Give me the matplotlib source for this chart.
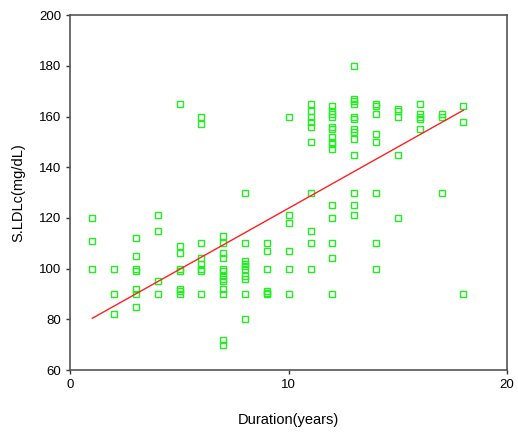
import numpy as np
import matplotlib.pyplot as plt

plt.rcParams['font.family'] = ['Liberation Sans', 'DejaVu Sans']

# duration (years) and small dense LDL (mg/dL)
duration = [1, 1, 1,
            2, 2, 2,
            3, 3, 3, 3, 3, 3, 3,
            4, 4, 4, 4,
            5, 5, 5, 5, 5, 5, 5, 5,
            6, 6, 6, 6, 6, 6, 6, 6,
            7, 7, 7, 7, 7, 7, 7, 7, 7, 7, 7, 7, 7,
            8, 8, 8, 8, 8, 8, 8, 8, 8, 8,
            9, 9, 9, 9, 9, 9,
            10, 10, 10, 10, 10, 10,
            11, 11, 11, 11, 11, 11, 11, 11, 11, 11,
            12, 12, 12, 12, 12, 12, 12, 12, 12, 12, 12, 12, 12, 12, 12,
            13, 13, 13, 13, 13, 13, 13, 13, 13, 13, 13, 13, 13,
            14, 14, 14, 14, 14, 14, 14, 14,
            15, 15, 15, 15, 15,
            16, 16, 16, 16, 16,
            17, 17, 17,
            18, 18, 18]
sldl = [120, 111, 100,
        100, 90, 82,
        112, 105, 100, 99, 92, 90, 85,
        121, 115, 95, 90,
        165, 109, 106, 100, 99, 92, 91, 90,
        160, 157, 110, 104, 102, 100, 99, 90,
        113, 110, 106, 104, 100, 99, 97, 96, 95, 92, 90, 72, 70,
        130, 110, 103, 102, 101, 100, 97, 96, 90, 80,
        110, 107, 100, 91, 90.5, 90,
        160, 121, 118, 107, 100, 90,
        165, 162, 160, 158, 156, 150, 130, 115, 110, 100,
        164, 162, 161, 160, 156, 155, 152, 150, 149, 147, 125, 120, 110, 104, 90,
        180, 167, 166, 165, 160, 159, 155, 154, 151, 145, 130, 125, 121,
        165, 164, 161, 153, 150, 130, 110, 100,
        163, 162, 160, 145, 120,
        165, 161, 160, 159, 155,
        161, 160, 130,
        164, 158, 90]

# fitted line as drawn in the reference (ends)
fit_x = [1, 18]
fit_y = [80.4, 162.5]

fig = plt.figure(figsize=(5.18, 4.32), dpi=100)
ax = fig.add_axes([0.136, 0.1435, 0.843, 0.8215])

ax.plot(duration, sldl, linestyle='none', marker='s', markersize=4.3,
        markerfacecolor='none', markeredgecolor='#22ee22', markeredgewidth=1.0)
ax.plot(fit_x, fit_y, color='#ff2020', linewidth=1.0)

ax.set_xlim(0, 20)
ax.set_ylim(60, 200)
ax.set_xticks([0, 10, 20])
ax.set_yticks(range(60, 201, 20))
ax.tick_params(direction='out', length=3, width=1, colors='#333333',
               labelsize=9.5, labelcolor='black')
for s in ax.spines.values():
    s.set_color('#555555')
    s.set_linewidth(1.2)

ax.set_xlabel('Duration(years)', fontsize=10.5, labelpad=16)
ax.set_ylabel('S.LDLc(mg/dL)', fontsize=10.5, labelpad=10)

fig.savefig('out.png', dpi=100)
